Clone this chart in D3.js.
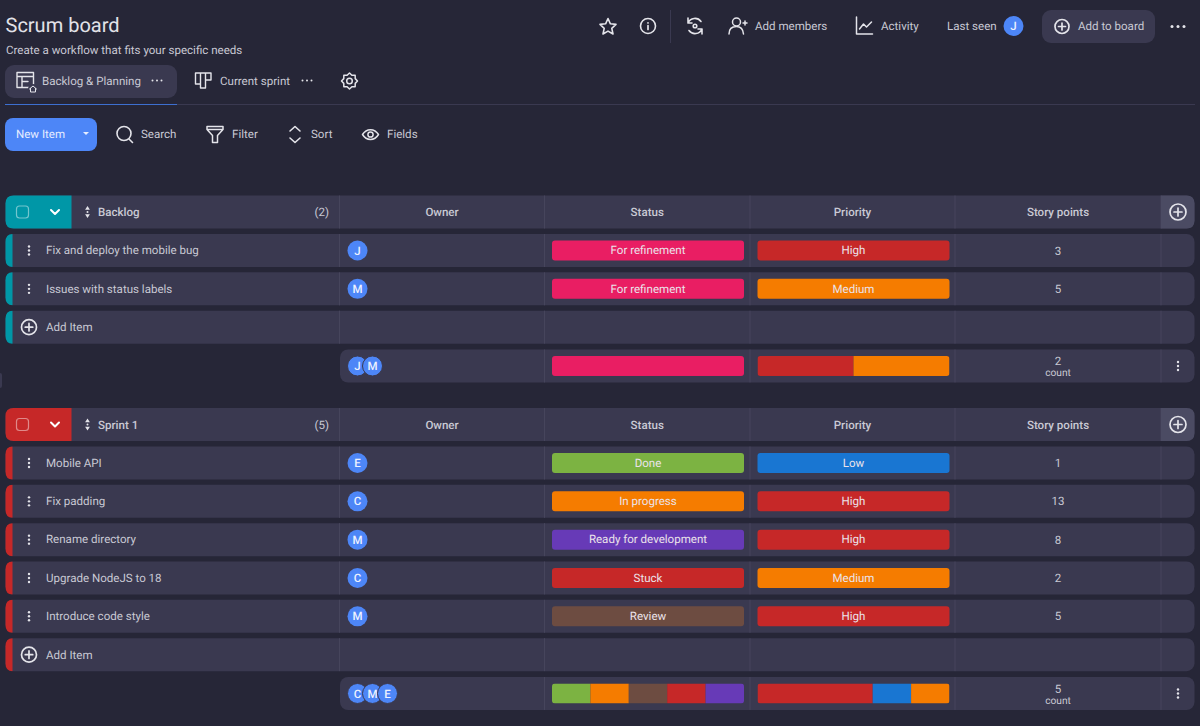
<!DOCTYPE html>
<html>
<head>
<meta charset="utf-8">
<script src="https://cdn.jsdelivr.net/npm/d3@7"></script>
<style>
  html, body { margin: 0; padding: 0; background: #262637; overflow: hidden; }
  svg { display: block; }
  text { font-family: Roboto, sans-serif; text-rendering: geometricPrecision; }
</style>
</head>
<body>
<svg id="board" width="1200" height="726"></svg>
<script>
// board content
const columns = ["Owner", "Status", "Priority", "Story points"];

const backlogItems = ["Fix and deploy the mobile bug", "Issues with status labels"];
const backlogOwners = ["J", "M"];
const backlogStatus = ["For refinement", "For refinement"];
const backlogPriority = ["High", "Medium"];
const backlogPoints = [3, 5];

const sprintItems = ["Mobile API", "Fix padding", "Rename directory", "Upgrade NodeJS to 18", "Introduce code style"];
const sprintOwners = ["E", "C", "M", "C", "M"];
const sprintStatus = ["Done", "In progress", "Ready for development", "Stuck", "Review"];
const sprintPriority = ["Low", "High", "High", "Medium", "High"];
const sprintPoints = [1, 13, 8, 2, 5];

// order of the stacked summary bars
const backlogStatusOrder = ["For refinement"];
const backlogPriorityOrder = ["High", "Medium"];
const sprintStatusOrder = ["Done", "In progress", "Review", "Stuck", "Ready for development"];
const sprintPriorityOrder = ["High", "Low", "Medium"];
const backlogSummaryOwners = ["J", "M"];
const sprintSummaryOwners = ["C", "M", "E"];

const labelColors = {
  "For refinement": "#e91e63",
  "High": "#c62828",
  "Medium": "#f57c00",
  "Low": "#1976d2",
  "Done": "#7cb342",
  "In progress": "#f57c00",
  "Ready for development": "#673ab7",
  "Stuck": "#c62828",
  "Review": "#6d4c41"
};

const BG = "#262637", ROW = "#3a3950", LINE = "#46455c", TXT = "#c9c9d4", ICON = "#e4e4ea", BLUE = "#4d86f7";
const FONT = 11.55;

const svg = d3.select("#board");

// x positions
const colEdges = [339.5, 544.5, 750, 955, 1161];
const LEFT = 5.5, RIGHT = 1194.5, ROW_H = 33;
const colX = d3.scaleOrdinal().domain(columns).range(colEdges.slice(0, 4));
const colCenter = c => (colX(c) + colEdges[columns.indexOf(c) + 1]) / 2;

function label(g, x, y, str, opts = {}) {
  return g.append("text")
    .attr("x", x).attr("y", y)
    .attr("dy", "0.35em")
    .attr("text-anchor", opts.anchor || "start")
    .attr("font-size", opts.size || FONT)
    .attr("font-weight", opts.weight || 400)
    .attr("fill", opts.color || TXT)
    .text(str);
}

function icon(g, x, y, d, opts = {}) {
  return g.append("path")
    .attr("transform", `translate(${x},${y})`)
    .attr("d", d)
    .attr("fill", opts.fill || "none")
    .attr("stroke", opts.fill ? "none" : (opts.color || ICON))
    .attr("stroke-width", opts.width || 1.6)
    .attr("stroke-linecap", "round")
    .attr("stroke-linejoin", "round");
}

function vdots(g, x, y) {
  [-4, 0, 4].forEach(o => {
    g.append("circle").attr("cx", x).attr("cy", y + o).attr("r", 1.2).attr("fill", ICON);
  });
}

function hdots(g, x, y, step, r) {
  [-1, 0, 1].forEach(o => {
    g.append("circle").attr("cx", x + o * step).attr("cy", y).attr("r", r).attr("fill", ICON);
  });
}

function plus(g, x, y, r) {
  g.append("circle").attr("cx", x).attr("cy", y).attr("r", r)
    .attr("fill", "none").attr("stroke", ICON).attr("stroke-width", 1.7);
  icon(g, x, y, `M${-r * 0.5},0H${r * 0.5}M0,${-r * 0.5}V${r * 0.5}`, { width: 1.7 });
}

function avatar(g, x, y, ch, ring) {
  g.append("circle").attr("cx", x).attr("cy", y).attr("r", 10)
    .attr("fill", BLUE)
    .attr("stroke", ring ? ROW : "none").attr("stroke-width", ring ? 1 : 0);
  label(g, x, y, ch, { anchor: "middle", size: 11.5, color: "#eef2ff", weight: 500 });
}

// rounded row with the column dividers on top
function rowBack(g, y, strip) {
  g.append("rect").attr("x", LEFT).attr("y", y).attr("width", RIGHT - LEFT).attr("height", ROW_H)
    .attr("rx", 8).attr("fill", ROW);
  if (strip) {
    g.append("path")
      .attr("d", `M${LEFT + 7},${y}V${y + ROW_H}Q${LEFT},${y + ROW_H} ${LEFT},${y + ROW_H - 8}V${y + 8}Q${LEFT},${y} ${LEFT + 7},${y}Z`)
      .attr("fill", strip);
  }
  colEdges.forEach(x => {
    g.append("line").attr("x1", x).attr("x2", x).attr("y1", y).attr("y2", y + ROW_H)
      .attr("stroke", LINE).attr("stroke-width", 1);
  });
}

function pill(g, col, y, name) {
  const x0 = colX(col) + 7.5, w = 192;
  g.append("rect").attr("x", x0).attr("y", y + 6.5).attr("width", w).attr("height", 20)
    .attr("rx", 3).attr("fill", labelColors[name]);
  label(g, x0 + w / 2, y + 16.2, name, { anchor: "middle", color: "#ebe3ea" });
}

// stacked summary bar, width from the count of each label
function stacked(g, col, y, values, order) {
  const x0 = colX(col) + 7.5, w = 192;
  const x = d3.scaleLinear().domain([0, values.length]).range([x0, x0 + w]);
  const clipId = "clip" + col + Math.round(y);
  g.append("clipPath").attr("id", clipId).append("rect")
    .attr("x", x0).attr("y", y + 6.5).attr("width", w).attr("height", 20).attr("rx", 3);
  let acc = 0;
  const stack = order.map(name => {
    const n = values.filter(v => v === name).length;
    const d = { name, from: acc, to: acc + n };
    acc += n;
    return d;
  });
  g.append("g").attr("clip-path", `url(#${clipId})`)
    .selectAll("rect").data(stack).join("rect")
    .attr("x", d => x(d.from))
    .attr("y", y + 6.5)
    .attr("width", d => x(d.to) - x(d.from))
    .attr("height", 20)
    .attr("fill", d => labelColors[d.name]);
}

function drawGroup(top, name, color, items, owners, status, priority, points, statusOrder, priorityOrder, summaryOwners) {
  const g = svg.append("g");
  const PITCH = 38.33;

  // header
  rowBack(g, top, null);
  g.append("path")
    .attr("d", `M${LEFT + 8},${top}H71.5V${top + ROW_H}H${LEFT + 8}Q${LEFT},${top + ROW_H} ${LEFT},${top + ROW_H - 8}V${top + 8}Q${LEFT},${top} ${LEFT + 8},${top}Z`)
    .attr("fill", color);
  g.append("rect").attr("x", 16.5).attr("y", top + 10.5).attr("width", 12).attr("height", 12).attr("rx", 3)
    .attr("fill", "none").attr("stroke", "#ffffff").attr("stroke-opacity", 0.45).attr("stroke-width", 1.2);
  icon(g, 55, top + 16.5, "M-4,-2L0,2L4,-2", { width: 2, color: "#ffffff" });
  icon(g, 87.5, top + 16.5, "M-2.4,-2.2L0,-6L2.4,-2.2ZM-2.4,2.2L0,6L2.4,2.2Z", { fill: ICON });
  g.append("circle").attr("cx", 87.5).attr("cy", top + 16.5).attr("r", 1).attr("fill", ICON);
  label(g, 98, top + 16.5, name, { weight: 500 });
  label(g, 329, top + 16.5, `(${items.length})`, { anchor: "end" });
  columns.forEach(c => label(g, colCenter(c), top + 16.5, c, { anchor: "middle", weight: 500 }));
  g.append("path")
    .attr("d", `M1161,${top}H${RIGHT - 8}Q${RIGHT},${top} ${RIGHT},${top + 8}V${top + ROW_H - 8}Q${RIGHT},${top + ROW_H} ${RIGHT - 8},${top + ROW_H}H1161Z`)
    .attr("fill", "#4b4b63");
  plus(g, 1178, top + 16.5, 8);

  // item rows
  items.forEach((item, i) => {
    const y = top + 38.5 + i * PITCH;
    rowBack(g, y, color);
    vdots(g, 29, y + 16.5);
    label(g, 46, y + 16.2, item);
    avatar(g, 357.5, y + 16.5, owners[i], false);
    pill(g, "Status", y, status[i]);
    pill(g, "Priority", y, priority[i]);
    label(g, colCenter("Story points"), y + 16.5, points[i], { anchor: "middle" });
  });

  // add item row
  const addY = top + 38.5 + items.length * PITCH;
  rowBack(g, addY, color);
  plus(g, 29, addY + 16.5, 7.5);
  label(g, 46, addY + 16.5, "Add Item");

  // summary row
  const sumY = addY + PITCH + 0.5;
  g.append("rect").attr("x", 340).attr("y", sumY).attr("width", RIGHT - 340).attr("height", ROW_H)
    .attr("rx", 8).attr("fill", ROW);
  colEdges.slice(1).forEach(x => {
    g.append("line").attr("x1", x).attr("x2", x).attr("y1", sumY).attr("y2", sumY + ROW_H)
      .attr("stroke", LINE);
  });
  summaryOwners.forEach((o, i) => avatar(g, 357.5 + i * 15, sumY + 16.5, o, true));
  stacked(g, "Status", sumY, status, statusOrder);
  stacked(g, "Priority", sumY, priority, priorityOrder);
  label(g, colCenter("Story points"), sumY + 11.5, points.length, { anchor: "middle" });
  label(g, colCenter("Story points"), sumY + 23, "count", { anchor: "middle", size: 10.2 });
  vdots(g, 1178, sumY + 16.5);
}

// page header
const head = svg.append("g");
label(head, 5.5, 25, "Scrum board", { size: 20, color: "#e2e2e8" });
label(head, 6, 50, "Create a workflow that fits your specific needs");

icon(head, 608, 26.5, "M0,-8L2.4,-2.7L8,-2.1L3.8,1.8L5,7.5L0,4.6L-5,7.5L-3.8,1.8L-8,-2.1L-2.4,-2.7Z");
head.append("circle").attr("cx", 648).attr("cy", 26).attr("r", 7.5).attr("fill", "none").attr("stroke", ICON).attr("stroke-width", 1.6);
icon(head, 648, 26, "M0,-3.2V-3M0,-0.5V3.5", { width: 1.7 });
head.append("line").attr("x1", 670.5).attr("x2", 670.5).attr("y1", 10).attr("y2", 43).attr("stroke", "#3a3950");
icon(head, 695, 26, "M-7,-3A7.5,7.5 0 0 1 6,-4.5M7,3A7.5,7.5 0 0 1 -6,4.5M-7,-8V-3H-3M7,8V3H3M1.8,0A1.8,1.8 0 1 1 -1.8,0A1.8,1.8 0 1 1 1.8,0");
icon(head, 737, 26, "M3.5,-4A4,4 0 1 1 -4.5,-4A4,4 0 1 1 3.5,-4M-8,8C-8,2 -4,0.5 -0.5,0.5C3,0.5 6,2.5 6.5,8M6,-3H10M8,-5V-1", { width: 1.5 });
label(head, 755, 26, "Add members");
icon(head, 864.5, 26, "M-8,-9V8H8M-5,3L-1,-2L2,1L7,-4", { width: 1.5 });
label(head, 881, 26, "Activity");
label(head, 947, 26, "Last seen");
avatar(head, 1013.5, 26, "J", false);
head.append("rect").attr("x", 1042).attr("y", 10).attr("width", 113).attr("height", 33).attr("rx", 9).attr("fill", ROW);
plus(head, 1062, 26.5, 7);
label(head, 1078, 26, "Add to board");
hdots(head, 1178, 26.5, 6, 1.5);

// tabs
const tabs = svg.append("g");
tabs.append("rect").attr("x", 5).attr("y", 65).attr("width", 172).attr("height", 33).attr("rx", 9).attr("fill", ROW);
icon(tabs, 25, 80, "M-8,-7.5H8.5V7.5H-8ZM-8,-3.5H8.5M-3,-3.5V7.5M-3,1.5H3", { width: 1.4 });
tabs.append("circle").attr("cx", 33).attr("cy", 89).attr("r", 5).attr("fill", ROW);
icon(tabs, 33, 89, "M-3.5,0L0,-3L3.5,0M-2.5,-0.5V3H2.5V-0.5", { width: 1 });
label(tabs, 42, 81, "Backlog & Planning");
hdots(tabs, 157, 80.5, 4.5, 1);
icon(tabs, 203.5, 79, "M-8,-6H-3V5H-8ZM-3,-6H2V9H-3ZM2,-6H7.5V1H2Z", { width: 1.4 });
label(tabs, 220, 81, "Current sprint");
hdots(tabs, 307, 80.5, 4.5, 1);
tabs.append("circle").attr("cx", 349.5).attr("cy", 81).attr("r", 2.8).attr("fill", "none").attr("stroke", ICON).attr("stroke-width", 1.5);
icon(tabs, 349.5, 81, d3.range(0, 16).map(i => {
  const a = i * Math.PI / 8, r = i % 2 ? 6.2 : 8;
  return (i ? "L" : "M") + (r * Math.cos(a)).toFixed(2) + "," + (r * Math.sin(a)).toFixed(2);
}).join("") + "Z", { width: 1.5 });
tabs.append("line").attr("x1", 5).attr("x2", 1195).attr("y1", 104.5).attr("y2", 104.5).attr("stroke", "#3a3950");
tabs.append("line").attr("x1", 5).attr("x2", 177).attr("y1", 104.5).attr("y2", 104.5).attr("stroke", "#3d6fd0");

// toolbar
const bar = svg.append("g");
bar.append("rect").attr("x", 5).attr("y", 118).attr("width", 92).attr("height", 33).attr("rx", 8).attr("fill", BLUE);
label(bar, 16, 134, "New Item", { color: "#e6edff" });
bar.append("path").attr("transform", "translate(86,133.5)").attr("d", "M-3,-1.5H3L0,1.5Z").attr("fill", "#e6edff");
icon(bar, 124, 133.5, "M7,0A7,7 0 1 1 -7,0A7,7 0 1 1 7,0M5,5.5L8.5,9", { width: 1.6 });
label(bar, 141, 134, "Search");
icon(bar, 215, 134, "M-8,-7.5H8V-4.5L2.5,1.5V8.5H-2.5V1.5L-8,-4.5ZM-8,-4.5H8", { width: 1.5 });
label(bar, 232, 134, "Filter");
icon(bar, 295, 134.5, "M-5,-3.5L0,-8L5,-3.5M-5,3.5L0,8L5,3.5", { width: 1.6 });
label(bar, 311, 134, "Sort");
icon(bar, 370.5, 134.5, "M-8,0C-4,-6.5 4,-6.5 8,0C4,6.5 -4,6.5 -8,0ZM2.6,0A2.6,2.6 0 1 1 -2.6,0A2.6,2.6 0 1 1 2.6,0", { width: 1.5 });
label(bar, 387, 134, "Fields");

// small scrollbar handle on the left edge
svg.append("rect").attr("x", -3).attr("y", 373).attr("width", 5).attr("height", 15).attr("rx", 2).attr("fill", ROW);

// groups
drawGroup(195.5, "Backlog", "#0097a7", backlogItems, backlogOwners, backlogStatus, backlogPriority, backlogPoints, backlogStatusOrder, backlogPriorityOrder, backlogSummaryOwners);
drawGroup(408, "Sprint 1", "#c62828", sprintItems, sprintOwners, sprintStatus, sprintPriority, sprintPoints, sprintStatusOrder, sprintPriorityOrder, sprintSummaryOwners);
</script>
</body>
</html>
